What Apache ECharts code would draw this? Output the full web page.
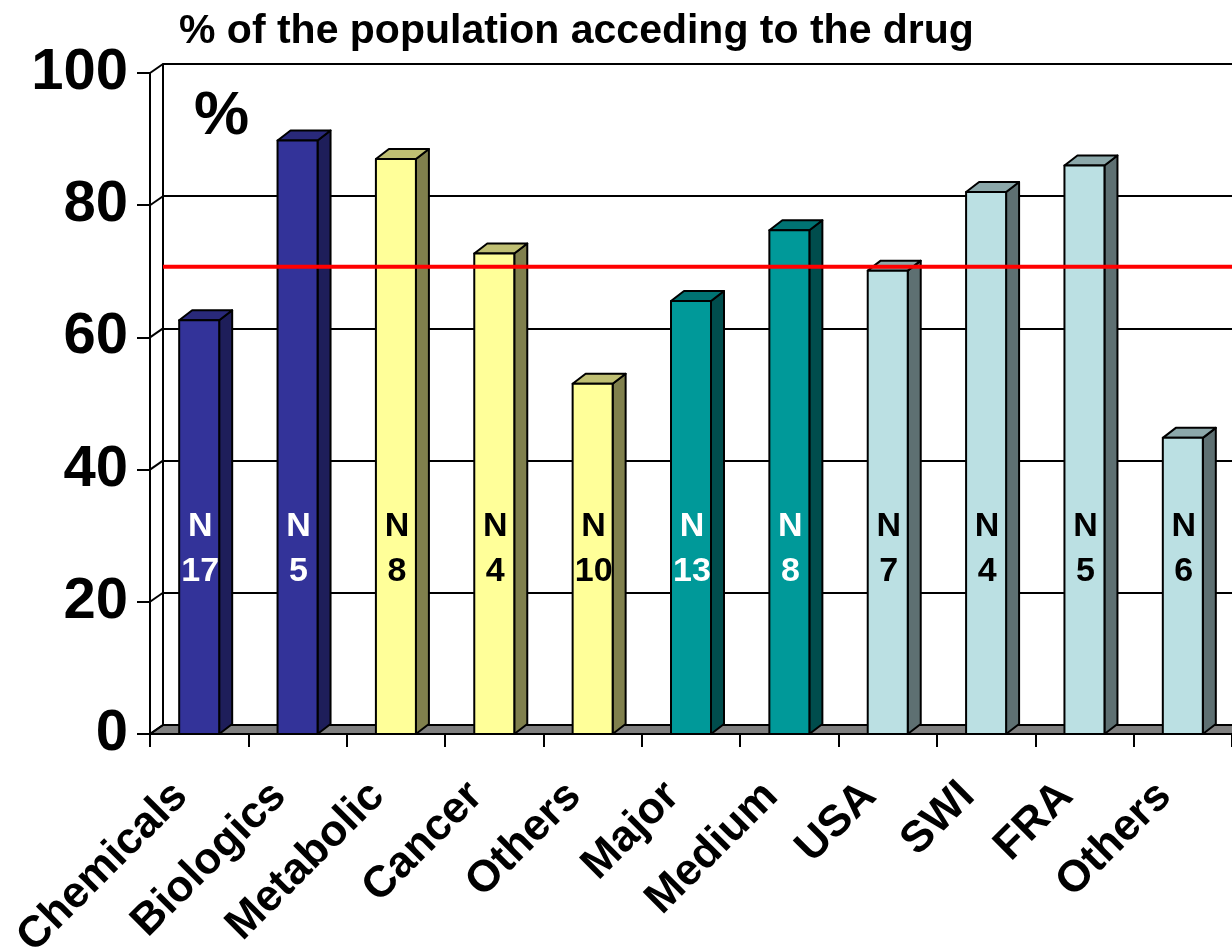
<!DOCTYPE html>
<html>
<head>
<meta charset="utf-8">
<title>% of the population acceding to the drug</title>
<script src="https://cdn.jsdelivr.net/npm/echarts@6/dist/echarts.min.js"></script>
<style>
  html, body { margin: 0; padding: 0; background: #ffffff; }
  #chart { width: 1232px; height: 948px; }
</style>
</head>
<body>
<div id="chart"></div>
<script>
// ---- data ----
const categories = ['Chemicals', 'Biologics', 'Metabolic', 'Cancer', 'Others',
                    'Major', 'Medium', 'USA', 'SWI', 'FRA', 'Others'];
const shares = [62.6, 89.8, 87.0, 72.7, 53.0, 65.5, 76.2, 70.1, 82.0, 86.0, 44.8];
const sampleSizes = [17, 5, 8, 4, 10, 13, 8, 7, 4, 5, 6];
// which breakdown each bar belongs to: product type, therapeutic area, company size, country
const breakdown = [0, 0, 1, 1, 1, 2, 2, 3, 3, 3, 3];
const yTicks = [0, 20, 40, 60, 80, 100];
const target = 70;
const titleText = '% of the population acceding to the drug';
const unitText = '%';

// ---- styling ----
const FONT = '"Liberation Sans", Arial, Helvetica, sans-serif';
const WALL_DX = 13, WALL_DY = -9;   // depth of the back wall / floor
const BAR_DX = 13, BAR_DY = -10;    // depth of each column
const BAR_W = 40;
const LABEL_LEVEL = 28;             // height (in axis units) where the N labels sit
const palette = [
  { front: '#333399', side: '#1E1E5A', top: '#29297A', text: '#FFFFFF' },
  { front: '#FFFF99', side: '#80804D', top: '#BFBF73', text: '#000000' },
  { front: '#009999', side: '#004D4D', top: '#007373', text: '#FFFFFF' },
  { front: '#BBE0E3', side: '#5E7072', top: '#8CA8AA', text: '#000000' }
];
const OUTLINE = { stroke: '#000000', lineWidth: 2, lineJoin: 'round' };

const chart = echarts.init(document.getElementById('chart'), null, { renderer: 'canvas' });

// column with front, side and top faces plus its N label
function renderColumn(params, api) {
  const i = api.value(0);
  const v = api.value(1);
  const base = api.coord([i, 0]);
  const head = api.coord([i, v]);
  const x1 = base[0] - BAR_W / 2, x2 = base[0] + BAR_W / 2;
  const y0 = base[1], y1 = head[1];
  const c = palette[breakdown[i]];
  const ly = api.coord([i, LABEL_LEVEL])[1];
  return {
    type: 'group',
    children: [
      { type: 'polygon',
        shape: { points: [[x2, y0], [x2 + BAR_DX, y0 + BAR_DY], [x2 + BAR_DX, y1 + BAR_DY], [x2, y1]] },
        style: Object.assign({ fill: c.side }, OUTLINE) },
      { type: 'polygon',
        shape: { points: [[x1, y1], [x1 + BAR_DX, y1 + BAR_DY], [x2 + BAR_DX, y1 + BAR_DY], [x2, y1]] },
        style: Object.assign({ fill: c.top }, OUTLINE) },
      { type: 'rect',
        shape: { x: x1, y: y1, width: BAR_W, height: y0 - y1 },
        style: Object.assign({ fill: c.front }, OUTLINE) },
      { type: 'text', x: base[0] + 1, y: ly,
        style: { text: 'N\n' + sampleSizes[i], fill: c.text, font: 'bold 34px ' + FONT,
                 align: 'center', verticalAlign: 'middle', lineHeight: 45 } }
    ]
  };
}

// slanted edges of the side wall at each tick
function renderWallEdge(params, api) {
  const x = params.coordSys.x;
  const y = api.coord([0, api.value(1)])[1];
  return { type: 'line', shape: { x1: x, y1: y, x2: x + WALL_DX, y2: y + WALL_DY },
           style: { stroke: '#000000', lineWidth: 2 } };
}

// grey floor under the columns
function renderFloor(params, api) {
  const cs = params.coordSys;
  const y = api.coord([0, api.value(1)])[1];
  const xl = cs.x, xr = cs.x + cs.width;
  return { type: 'polygon',
           shape: { points: [[xl, y], [xr, y], [xr + WALL_DX, y + WALL_DY], [xl + WALL_DX, y + WALL_DY]] },
           style: Object.assign({ fill: '#808080' }, OUTLINE) };
}

// red reference line across the plot, at mid depth
function renderTarget(params, api) {
  const cs = params.coordSys;
  const y = api.coord([0, api.value(1)])[1] + WALL_DY / 2;
  return { type: 'line', shape: { x1: cs.x + WALL_DX, y1: y, x2: cs.x + cs.width + WALL_DX, y2: y },
           style: { stroke: '#FF0000', lineWidth: 4 } };
}

const option = {
  backgroundColor: '#ffffff',
  animation: false,
  title: {
    text: titleText, left: 174, top: 6,
    textStyle: { fontFamily: FONT, fontWeight: 'bold', fontSize: 41, color: '#000000' }
  },
  graphic: [{
    type: 'text', left: 194, top: 86,
    style: { text: unitText, font: 'bold 62px ' + FONT, fill: '#000000' }
  }],
  grid: [
    { left: 150, top: 73, width: 1082, height: 661, containLabel: false, outerBoundsMode: 'none' },
    { left: 150 + WALL_DX, top: 73 + WALL_DY, width: 1082, height: 661, containLabel: false,
      outerBoundsMode: 'none' }
  ],
  xAxis: [
    { type: 'category', gridIndex: 0, data: categories,
      axisLine: { show: true, lineStyle: { color: '#000000', width: 2 } },
      axisTick: { show: true, length: 13, lineStyle: { color: '#000000', width: 2 } },
      axisLabel: { show: true, interval: 0, rotate: 45, margin: 37, padding: [0, 26, 0, 0],
                   fontFamily: FONT, fontWeight: 'bold', fontSize: 44, color: '#000000' },
      splitLine: { show: false } },
    { type: 'category', gridIndex: 1, data: categories,
      axisLine: { show: false }, axisTick: { show: false }, axisLabel: { show: false },
      splitLine: { show: false } }
  ],
  yAxis: [
    { type: 'value', gridIndex: 0, min: 0, max: 100, interval: 20,
      axisLine: { show: true, lineStyle: { color: '#000000', width: 2 } },
      axisTick: { show: true, length: 13, lineStyle: { color: '#000000', width: 2 } },
      axisLabel: { show: true, margin: 22, fontFamily: FONT, fontWeight: 'bold',
                   fontSize: 58, color: '#000000' },
      splitLine: { show: false } },
    { type: 'value', gridIndex: 1, min: 0, max: 100, interval: 20,
      axisLine: { show: true, lineStyle: { color: '#000000', width: 2 } },
      axisTick: { show: false }, axisLabel: { show: false },
      splitLine: { show: true, lineStyle: { color: '#000000', width: 2 } } }
  ],
  series: [
    { type: 'custom', name: 'floor', xAxisIndex: 0, yAxisIndex: 0, z: 1,
      renderItem: renderFloor, data: [[0, 0]], silent: true },
    { type: 'custom', name: 'wall', xAxisIndex: 0, yAxisIndex: 0, z: 1,
      renderItem: renderWallEdge, data: yTicks.map(v => [0, v]), silent: true },
    { type: 'custom', name: 'share', xAxisIndex: 0, yAxisIndex: 0, z: 3,
      renderItem: renderColumn, data: shares.map((v, i) => [i, v]),
      encode: { x: 0, y: 1 } },
    { type: 'custom', name: 'target', xAxisIndex: 0, yAxisIndex: 0, z: 5,
      renderItem: renderTarget, data: [[0, target]], silent: true }
  ]
};

chart.setOption(option);
</script>
</body>
</html>
